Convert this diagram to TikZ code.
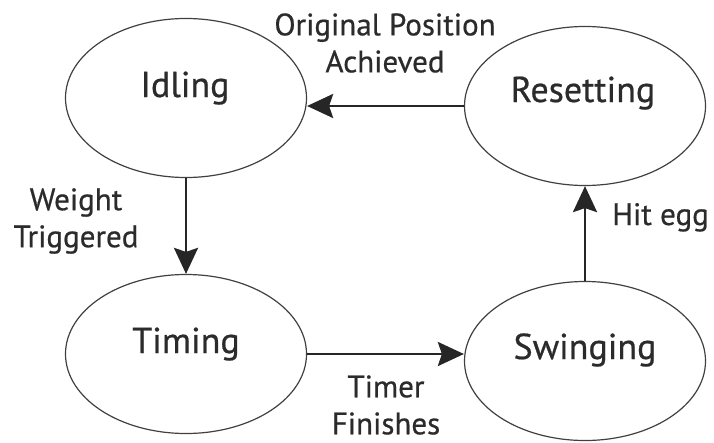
\documentclass[tikz,border=0pt]{standalone}
\usepackage{fontspec}
\setmainfont{PT Sans}[FakeBold=0.6]
\usetikzlibrary{shapes.geometric,arrows.meta}
\definecolor{inkgray}{HTML}{2B2B2B}
\tikzset{
  state/.style={ellipse,draw=inkgray!90,line width=1.2pt,minimum width=241pt,minimum height=159pt,inner sep=0pt},
  statename/.style={anchor=base,text=inkgray,font=\fontsize{36}{40}\selectfont},
  trans/.style={-{Stealth[length=26pt,width=24pt,inset=4pt]},line width=2.8pt,draw=black!85},
  translabel/.style={align=center,inner sep=0pt,text=inkgray,font=\fontsize{31}{37}\selectfont}
}
\begin{document}
\begin{tikzpicture}[x=1pt,y=-1pt]
\useasboundingbox (0,0) rectangle (714,442);
% states
\node[state] (idle) at (186,98) {};
\node[state] (reset) at (585,106) {};
\node[state] (timing) at (186,354) {};
\node[state] (swing) at (585,361) {};
\node[statename] (idlename) at (185,97) {Idling};
\node[statename] (resetname) at (583,102) {Resetting};
\node[statename] (timingname) at (186,353) {Timing};
\node[statename] (swingname) at (585,359) {Swinging};
% transitions
\draw[trans] (idle) -- (timing);
\draw[trans] (timing.east) -- (timing.east -| swing.west);
\draw[trans] (swing) -- (reset);
\draw[trans] (reset.west) -- (reset.west -| idle.east);
% labels
\node[translabel] (achieved) at (385,43) {Original Position\\Achieved};
\node[translabel] (weight) at (76,221) {Weight\\Triggered};
\node[translabel,anchor=base west] (hitegg) at (612,225) {Hit egg};
\node[translabel] (timer) at (386,405) {Timer\\Finishes};
\end{tikzpicture}
\end{document}
